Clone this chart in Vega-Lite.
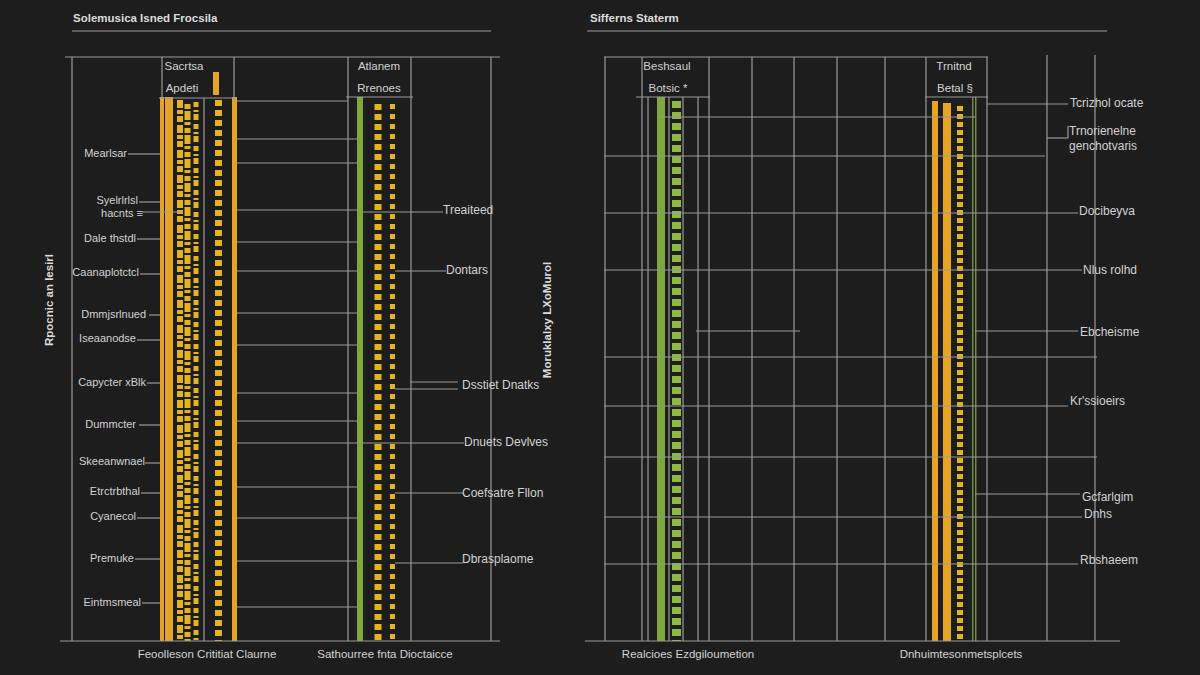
{
  "$schema": "https://vega.github.io/schema/vega-lite/v6.json",
  "width": 1200,
  "height": 675,
  "autosize": {"type": "fit", "contains": "padding"},
  "padding": 0,
  "background": "#1d1d1d",
  "config": {"view": {"stroke": null}, "text": {"font": "Liberation Sans", "color": "#d2d2d2"}},
  "datasets": {
    "lines": [
      {"x1": 72, "x2": 491, "y1": 31, "y2": 31},
      {"x1": 587, "x2": 1107, "y1": 31, "y2": 31},
      {"x1": 65, "x2": 500, "y1": 57, "y2": 57},
      {"x1": 72, "x2": 72, "y1": 57, "y2": 641},
      {"x1": 491, "x2": 491, "y1": 57, "y2": 641},
      {"x1": 162, "x2": 162, "y1": 57, "y2": 98},
      {"x1": 234, "x2": 234, "y1": 57, "y2": 101},
      {"x1": 348, "x2": 348, "y1": 57, "y2": 641},
      {"x1": 411, "x2": 411, "y1": 57, "y2": 641},
      {"x1": 204, "x2": 204, "y1": 98, "y2": 641},
      {"x1": 159, "x2": 237, "y1": 98, "y2": 98},
      {"x1": 237, "x2": 348, "y1": 101, "y2": 101},
      {"x1": 346, "x2": 413, "y1": 97, "y2": 97},
      {"x1": 60, "x2": 500, "y1": 641, "y2": 641},
      {"x1": 128, "x2": 160, "y1": 154, "y2": 154},
      {"x1": 139, "x2": 160, "y1": 202, "y2": 202},
      {"x1": 142, "x2": 183, "y1": 212, "y2": 212},
      {"x1": 137, "x2": 160, "y1": 239, "y2": 239},
      {"x1": 140, "x2": 160, "y1": 274, "y2": 274},
      {"x1": 149, "x2": 160, "y1": 315, "y2": 315},
      {"x1": 137, "x2": 160, "y1": 340, "y2": 340},
      {"x1": 147, "x2": 160, "y1": 383, "y2": 383},
      {"x1": 139, "x2": 160, "y1": 425, "y2": 425},
      {"x1": 145, "x2": 160, "y1": 463, "y2": 463},
      {"x1": 141, "x2": 160, "y1": 493, "y2": 493},
      {"x1": 137, "x2": 160, "y1": 518, "y2": 518},
      {"x1": 135, "x2": 160, "y1": 559, "y2": 559},
      {"x1": 142, "x2": 160, "y1": 603, "y2": 603},
      {"x1": 237, "x2": 358, "y1": 139, "y2": 139},
      {"x1": 237, "x2": 358, "y1": 163, "y2": 163},
      {"x1": 237, "x2": 358, "y1": 210, "y2": 210},
      {"x1": 237, "x2": 358, "y1": 242, "y2": 242},
      {"x1": 237, "x2": 358, "y1": 271, "y2": 271},
      {"x1": 237, "x2": 358, "y1": 313, "y2": 313},
      {"x1": 237, "x2": 358, "y1": 345, "y2": 345},
      {"x1": 237, "x2": 358, "y1": 393, "y2": 393},
      {"x1": 237, "x2": 358, "y1": 421, "y2": 421},
      {"x1": 237, "x2": 464, "y1": 443, "y2": 443},
      {"x1": 237, "x2": 358, "y1": 487, "y2": 487},
      {"x1": 237, "x2": 358, "y1": 518, "y2": 518},
      {"x1": 237, "x2": 358, "y1": 561, "y2": 561},
      {"x1": 237, "x2": 358, "y1": 607, "y2": 607},
      {"x1": 363, "x2": 443, "y1": 212, "y2": 212},
      {"x1": 395, "x2": 446, "y1": 271, "y2": 271},
      {"x1": 410, "x2": 458, "y1": 382, "y2": 382},
      {"x1": 395, "x2": 458, "y1": 389, "y2": 389},
      {"x1": 395, "x2": 463, "y1": 493, "y2": 493},
      {"x1": 395, "x2": 463, "y1": 563, "y2": 563},
      {"x1": 604, "x2": 988, "y1": 57, "y2": 57},
      {"x1": 605, "x2": 605, "y1": 57, "y2": 641},
      {"x1": 642, "x2": 642, "y1": 57, "y2": 641},
      {"x1": 709, "x2": 709, "y1": 57, "y2": 641},
      {"x1": 752, "x2": 752, "y1": 57, "y2": 641},
      {"x1": 794, "x2": 794, "y1": 57, "y2": 641},
      {"x1": 837, "x2": 837, "y1": 57, "y2": 641},
      {"x1": 885, "x2": 885, "y1": 57, "y2": 641},
      {"x1": 926, "x2": 926, "y1": 57, "y2": 641},
      {"x1": 987, "x2": 987, "y1": 57, "y2": 641},
      {"x1": 648, "x2": 648, "y1": 97, "y2": 641},
      {"x1": 669, "x2": 669, "y1": 97, "y2": 641},
      {"x1": 683, "x2": 683, "y1": 97, "y2": 641},
      {"x1": 698, "x2": 698, "y1": 97, "y2": 641},
      {"x1": 1047, "x2": 1047, "y1": 55, "y2": 641},
      {"x1": 1095, "x2": 1095, "y1": 55, "y2": 641},
      {"x1": 636, "x2": 710, "y1": 97, "y2": 97},
      {"x1": 925, "x2": 988, "y1": 97, "y2": 97},
      {"x1": 585, "x2": 1120, "y1": 641, "y2": 641},
      {"x1": 660, "x2": 975, "y1": 117, "y2": 117},
      {"x1": 987, "x2": 1068, "y1": 104, "y2": 104},
      {"x1": 1047, "x2": 1068, "y1": 138, "y2": 138},
      {"x1": 1068, "x2": 1068, "y1": 126, "y2": 138},
      {"x1": 604, "x2": 1045, "y1": 156, "y2": 156},
      {"x1": 604, "x2": 1078, "y1": 213, "y2": 213},
      {"x1": 604, "x2": 1082, "y1": 270, "y2": 270},
      {"x1": 696, "x2": 800, "y1": 331, "y2": 331},
      {"x1": 975, "x2": 1078, "y1": 331, "y2": 331},
      {"x1": 604, "x2": 1097, "y1": 357, "y2": 357},
      {"x1": 604, "x2": 1068, "y1": 406, "y2": 406},
      {"x1": 604, "x2": 1097, "y1": 457, "y2": 457},
      {"x1": 975, "x2": 1080, "y1": 494, "y2": 494},
      {"x1": 604, "x2": 1082, "y1": 517, "y2": 517},
      {"x1": 604, "x2": 1078, "y1": 564, "y2": 564}
    ],
    "bars": [
      {"series": "gold", "x1": 160, "x2": 164, "y1": 97, "y2": 641},
      {"series": "gold", "x1": 165, "x2": 173, "y1": 97, "y2": 641},
      {"series": "gold", "x1": 232, "x2": 237, "y1": 97, "y2": 641},
      {"series": "gold", "x1": 213, "x2": 219, "y1": 72, "y2": 95},
      {"series": "green", "x1": 357, "x2": 363, "y1": 97, "y2": 641},
      {"series": "green", "x1": 657, "x2": 665, "y1": 97, "y2": 641},
      {"series": "greenThin", "x1": 972, "x2": 973.5, "y1": 97, "y2": 641},
      {"series": "greenThin", "x1": 975, "x2": 976.5, "y1": 97, "y2": 641},
      {"series": "gold", "x1": 932, "x2": 938, "y1": 101, "y2": 641},
      {"series": "gold", "x1": 943, "x2": 951, "y1": 103, "y2": 641}
    ],
    "dashes": [
      {"col": "a", "series": "goldDash", "x": 180, "y1": 100, "y2": 641},
      {"col": "b", "series": "goldDash", "x": 187.5, "y1": 104, "y2": 641},
      {"col": "c", "series": "goldDash", "x": 196, "y1": 102, "y2": 641},
      {"col": "d", "series": "goldDash", "x": 218.5, "y1": 100, "y2": 641},
      {"col": "d", "series": "goldDash", "x": 378, "y1": 104, "y2": 641},
      {"col": "e", "series": "goldDash", "x": 392.5, "y1": 104, "y2": 641},
      {"col": "f", "series": "greenDash", "x": 676.5, "y1": 101, "y2": 641},
      {"col": "g", "series": "goldDash", "x": 960, "y1": 106, "y2": 641}
    ],
    "textLeft": [
      {"x": 443, "y": 210, "label": "Treaiteed"},
      {"x": 446, "y": 270, "label": "Dontars"},
      {"x": 462, "y": 385, "label": "Dsstiet Dnatks"},
      {"x": 464, "y": 442, "label": "Dnuets Devlves"},
      {"x": 462, "y": 493, "label": "Coefsatre Fllon"},
      {"x": 462, "y": 559, "label": "Dbrasplaome"},
      {"x": 1070, "y": 103, "label": "Tcrizhol ocate"},
      {"x": 1069, "y": 131, "label": "Trnorienelne"},
      {"x": 1069, "y": 146, "label": "genchotvaris"},
      {"x": 1079, "y": 211, "label": "Docibeyva"},
      {"x": 1083, "y": 270, "label": "Nlus rolhd"},
      {"x": 1080, "y": 332, "label": "Ebcheisme"},
      {"x": 1070, "y": 401, "label": "Kr'ssioeirs"},
      {"x": 1082, "y": 497, "label": "Gcfarlgim"},
      {"x": 1084, "y": 514, "label": "Dnhs"},
      {"x": 1080, "y": 560, "label": "Rbshaeem"}
    ],
    "textRight": [
      {"x": 127, "y": 154, "label": "Mearlsar"},
      {"x": 138, "y": 201, "label": "Syelrlrlsl"},
      {"x": 143, "y": 214, "label": "hacnts ≡"},
      {"x": 136, "y": 239, "label": "Dale thstdl"},
      {"x": 139, "y": 273, "label": "Caanaplotctcl"},
      {"x": 146, "y": 315, "label": "Dmmjsrlnued"},
      {"x": 136, "y": 339, "label": "Iseaanodse"},
      {"x": 146, "y": 383, "label": "Capycter xBlk"},
      {"x": 136, "y": 425, "label": "Dummcter"},
      {"x": 145, "y": 462, "label": "Skeeanwnael"},
      {"x": 140, "y": 492, "label": "Etrctrbthal"},
      {"x": 136, "y": 517, "label": "Cyanecol"},
      {"x": 134, "y": 559, "label": "Premuke"},
      {"x": 141, "y": 603, "label": "Eintmsmeal"}
    ],
    "textCenter": [
      {"x": 184, "y": 67, "label": "Sacrtsa"},
      {"x": 182, "y": 89, "label": "Apdeti"},
      {"x": 379, "y": 67, "label": "Atlanem"},
      {"x": 379, "y": 89, "label": "Rrenoes"},
      {"x": 667, "y": 67, "label": "Beshsaul"},
      {"x": 668, "y": 89, "label": "Botsic  *"},
      {"x": 954, "y": 67, "label": "Trnitnd"},
      {"x": 955, "y": 89, "label": "Betal  §"},
      {"x": 207, "y": 655, "label": "Feoolleson Crititiat Claurne"},
      {"x": 385, "y": 655, "label": "Sathourree fnta Dioctaicce"},
      {"x": 688, "y": 655, "label": "Realcioes Ezdgiloumetion"},
      {"x": 961, "y": 655, "label": "Dnhuimtesonmetsplcets"}
    ],
    "titles": [
      {"x": 73, "y": 19, "label": "Solemusica  Isned Frocsila"},
      {"x": 590, "y": 19, "label": "Sifferns Staterm"}
    ],
    "textRot": [
      {"x": 50, "y": 300, "label": "Rpocnic an Iesirl"},
      {"x": 548, "y": 320, "label": "Moruklalxy LXoMurol"}
    ]
  },
  "layer": [
    {
      "data": {"name": "bars"},
      "mark": {"type": "rect"},
      "encoding": {
        "x": {"field": "x1", "type": "quantitative", "scale": {"domain": [0, 1200], "nice": false, "zero": false}, "axis": null},
        "x2": {"field": "x2"},
        "y": {"field": "y1", "type": "quantitative", "scale": {"domain": [0, 675], "nice": false, "zero": false, "reverse": true}, "axis": null},
        "y2": {"field": "y2"},
        "color": {"field": "series", "type": "nominal", "scale": {"domain": ["gold", "green", "goldDash", "greenDash", "greenThin"], "range": ["#e6a425", "#7ea83b", "#e3b321", "#8fb845", "#6f8a45"]}, "legend": null}
      }
    },
    {
      "data": {"name": "dashes"},
      "mark": {"type": "rule", "strokeCap": "butt"},
      "encoding": {
        "x": {"field": "x", "type": "quantitative"},
        "y": {"field": "y1", "type": "quantitative"},
        "y2": {"field": "y2"},
        "color": {"field": "series", "type": "nominal", "legend": null},
        "strokeWidth": {"field": "col", "type": "nominal", "scale": {"type": "ordinal", "domain": ["a", "b", "c", "d", "e", "f", "g"], "range": [6, 6, 5, 7, 5, 9, 6]}, "legend": null},
        "strokeDash": {"field": "col", "type": "nominal", "scale": {"domain": ["a", "b", "c", "d", "e", "f", "g"], "range": [[8, 2, 4, 2, 6, 3], [5, 2, 9, 2, 3, 3], [5, 3, 2, 2, 6, 4], [6, 4], [5, 5], [7, 4], [5, 3]]}, "legend": null}
      }
    },
    {
      "data": {"name": "lines"},
      "mark": {"type": "rule", "color": "#9a9a9a", "strokeWidth": 1.2},
      "encoding": {
        "x": {"field": "x1", "type": "quantitative"},
        "x2": {"field": "x2"},
        "y": {"field": "y1", "type": "quantitative"},
        "y2": {"field": "y2"}
      }
    },
    {
      "data": {"name": "textLeft"},
      "mark": {"type": "text", "align": "left", "baseline": "middle", "fontSize": 12},
      "encoding": {
        "x": {"field": "x", "type": "quantitative"},
        "y": {"field": "y", "type": "quantitative"},
        "text": {"field": "label"}
      }
    },
    {
      "data": {"name": "textRight"},
      "mark": {"type": "text", "align": "right", "baseline": "middle", "fontSize": 11},
      "encoding": {
        "x": {"field": "x", "type": "quantitative"},
        "y": {"field": "y", "type": "quantitative"},
        "text": {"field": "label"}
      }
    },
    {
      "data": {"name": "textCenter"},
      "mark": {"type": "text", "align": "center", "baseline": "middle", "fontSize": 11.5},
      "encoding": {
        "x": {"field": "x", "type": "quantitative"},
        "y": {"field": "y", "type": "quantitative"},
        "text": {"field": "label"}
      }
    },
    {
      "data": {"name": "titles"},
      "mark": {"type": "text", "align": "left", "baseline": "middle", "fontSize": 11.5, "fontWeight": "bold", "color": "#dcdcdc"},
      "encoding": {
        "x": {"field": "x", "type": "quantitative"},
        "y": {"field": "y", "type": "quantitative"},
        "text": {"field": "label"}
      }
    },
    {
      "data": {"name": "textRot"},
      "mark": {"type": "text", "align": "center", "baseline": "middle", "fontSize": 11.5, "fontWeight": "bold", "angle": 270, "color": "#dcdcdc"},
      "encoding": {
        "x": {"field": "x", "type": "quantitative"},
        "y": {"field": "y", "type": "quantitative"},
        "text": {"field": "label"}
      }
    }
  ]
}
